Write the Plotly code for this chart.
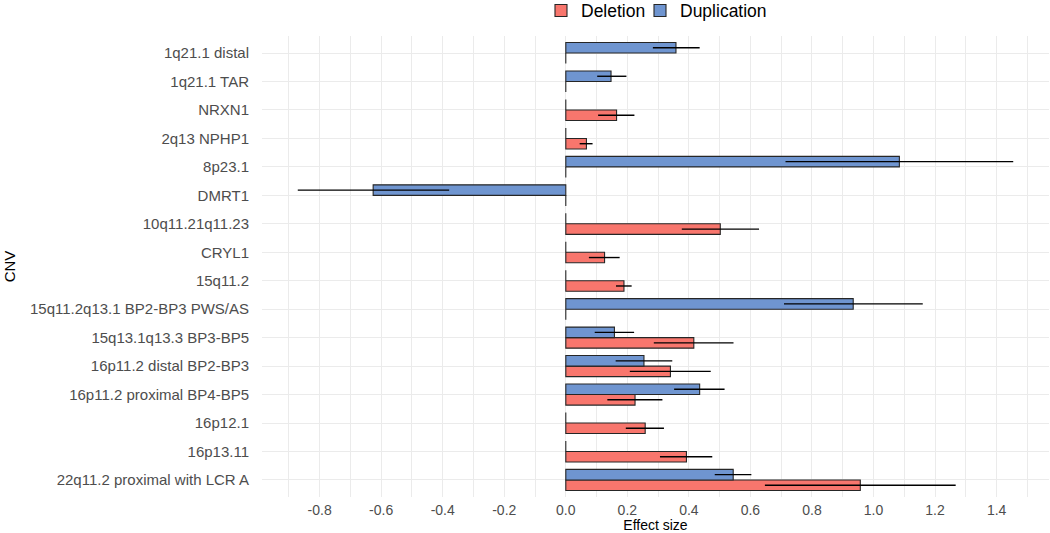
import plotly.graph_objects as go

# Categories, listed bottom to top (the y axis draws the first one lowest)
categories = [
    "22q11.2 proximal with LCR A",
    "16p13.11",
    "16p12.1",
    "16p11.2 proximal BP4-BP5",
    "16p11.2 distal BP2-BP3",
    "15q13.1q13.3 BP3-BP5",
    "15q11.2q13.1 BP2-BP3 PWS/AS",
    "15q11.2",
    "CRYL1",
    "10q11.21q11.23",
    "DMRT1",
    "8p23.1",
    "2q13 NPHP1",
    "NRXN1",
    "1q21.1 TAR",
    "1q21.1 distal",
]

# Deletion effect sizes and CI bounds (0 / None where the CNV has no deletion estimate)
del_effect = [0.957, 0.392, 0.258, 0.225, 0.340, 0.416, 0, 0.189, 0.126, 0.502, 0, 0, 0.067, 0.165, 0, 0]
del_lower = [0.647, 0.306, 0.195, 0.135, 0.208, 0.286, None, 0.163, 0.075, 0.377, None, None, 0.045, 0.105, None, None]
del_upper = [1.267, 0.476, 0.319, 0.314, 0.471, 0.545, None, 0.214, 0.175, 0.628, None, None, 0.087, 0.223, None, None]

# Duplication effect sizes and CI bounds
dup_effect = [0.544, 0, 0, 0.435, 0.254, 0.158, 0.934, 0, 0, 0, -0.626, 1.084, 0, 0, 0.147, 0.358]
dup_lower = [0.484, None, None, 0.352, 0.162, 0.094, 0.709, None, None, None, -0.871, 0.714, None, None, 0.102, 0.283]
dup_upper = [0.603, None, None, 0.516, 0.346, 0.222, 1.160, None, None, None, -0.379, 1.454, None, None, 0.197, 0.435]

x_ticks = [-0.8, -0.6, -0.4, -0.2, 0.0, 0.2, 0.4, 0.6, 0.8, 1.0, 1.2, 1.4]

RED = "#F8766D"
BLUE = "#6F95D0"
GRID = "#EBEBEB"


def plus(v, u):
    return [None if b is None else b - a for a, b in zip(v, u)]


def minus(v, l):
    return [None if b is None else a - b for a, b in zip(v, l)]


fig = go.Figure()
for name, vals, lo, hi, col, leg in [
    ("Deletion", del_effect, del_lower, del_upper, RED, "legend"),
    ("Duplication", dup_effect, dup_lower, dup_upper, BLUE, "legend2"),
]:
    fig.add_trace(go.Bar(
        name=name, y=categories, x=vals, orientation="h", legend=leg, showlegend=True,
        marker=dict(color=col, line=dict(color="#262626", width=1.1)),
        error_x=dict(type="data", symmetric=False, array=plus(vals, hi),
                     arrayminus=minus(vals, lo), color="black",
                     thickness=1.4, width=0),
    ))

all_lo = [v for v in del_lower + dup_lower if v is not None]
all_hi = [v for v in del_upper + dup_upper if v is not None]
span = max(all_hi) - min(all_lo)
xr = [min(all_lo) - 0.05 * span, max(all_hi) + 0.05 * span]

legend_style = dict(orientation="h", xanchor="left", y=1.094, yanchor="top",
                    font=dict(size=17.5, color="black"), bgcolor="rgba(0,0,0,0)",
                    itemclick=False)

fig.update_layout(
    width=1050, height=533,
    showlegend=True,
    margin=dict(l=262, r=1, t=36, b=36, autoexpand=False),
    paper_bgcolor="white", plot_bgcolor="white",
    barmode="group", bargap=0.26, bargroupgap=0,
    font=dict(family="Liberation Sans, Arial, sans-serif", size=14, color="#4D4D4D"),
    legend=dict(x=0.3545, **legend_style),
    legend2=dict(x=0.4803, **legend_style),
    xaxis=dict(range=xr, tickvals=x_ticks, ticktext=[f"{t:.1f}" for t in x_ticks],
               showgrid=True, gridcolor=GRID, gridwidth=1.1, zeroline=False,
               showline=False, ticks="", ticklabelstandoff=3,
               minor=dict(dtick=0.1, showgrid=True, gridcolor=GRID, gridwidth=0.55),
               title=dict(text="Effect size", font=dict(size=14, color="black"), standoff=0),
               tickfont=dict(size=14, color="#4D4D4D")),
    yaxis=dict(type="category", categoryorder="array", categoryarray=categories,
               range=[-0.6, len(categories) - 0.4],
               showgrid=True, gridcolor=GRID, gridwidth=1.1, zeroline=False,
               showline=False, ticks="", ticklabelstandoff=12,
               title=dict(text="CNV", font=dict(size=15, color="black"), standoff=10),
               tickfont=dict(size=15, color="#4D4D4D")),
)

fig.write_html("out.html", config={"displayModeBar": False},
               post_script="document.body.style.margin='0';document.body.style.padding='0';")
